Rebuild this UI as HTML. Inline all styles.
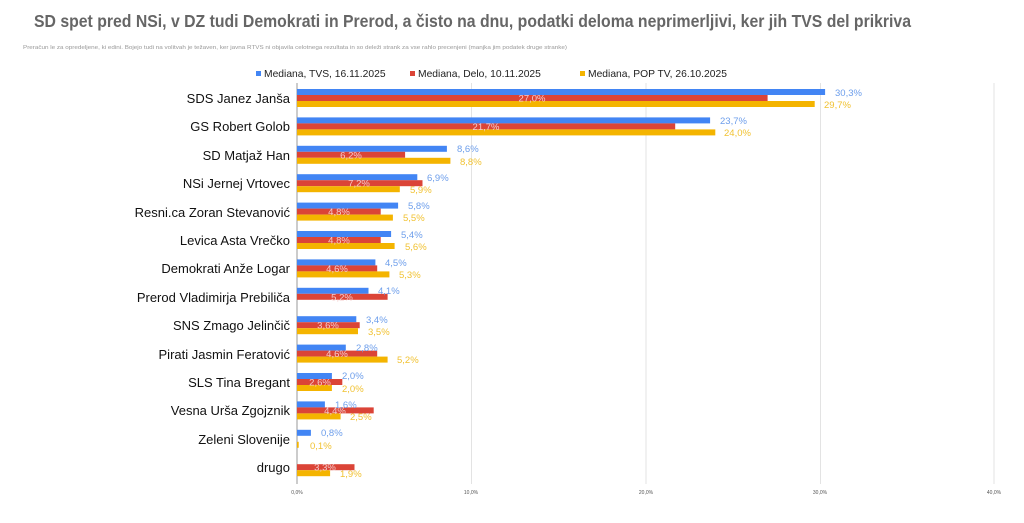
<!DOCTYPE html>
<html><head><meta charset="utf-8"><style>
body{margin:0;background:#fff;}
svg{display:block;font-family:"Liberation Sans",Arial,sans-serif;}
.c{font-size:13px;fill:#111;text-anchor:end;}
.b{font-size:9.5px;fill:#6d9eeb;}
.y{font-size:9.5px;fill:#f1c232;}
.r{font-size:9.5px;fill:#f4cccc;text-anchor:middle;}
.t{font-size:5px;fill:#555;text-anchor:middle;}
</style></head><body>
<svg width="1024" height="523" viewBox="0 0 1024 523">
<text x="34" y="27" font-size="17.5" font-weight="bold" fill="#666" textLength="877" lengthAdjust="spacingAndGlyphs">SD spet pred NSi, v DZ tudi Demokrati in Prerod, a čisto na dnu, podatki deloma neprimerljivi, ker jih TVS del prikriva</text>
<text x="23" y="49" font-size="5.2" fill="#999" textLength="544" lengthAdjust="spacingAndGlyphs">Preračun le za opredeljene, ki edini. Bojejo tudi na volitvah je težaven, ker javna RTVS ni objavila celotnega rezultata in so deleži strank za vse rahlo precenjeni (manjka jim podatek druge stranke)</text>
<g font-size="10.3" fill="#222">
<rect x="256" y="71" width="5" height="5" fill="#4285f4"/><text x="264" y="77">Mediana,  TVS, 16.11.2025</text>
<rect x="410" y="71" width="5" height="5" fill="#db4437"/><text x="418" y="77">Mediana, Delo, 10.11.2025</text>
<rect x="580" y="71" width="5" height="5" fill="#f4b400"/><text x="588" y="77">Mediana, POP TV, 26.10.2025</text>
</g>
<g stroke="#e3e3e3" stroke-width="1">
<line x1="471.5" y1="83" x2="471.5" y2="484"/><line x1="646" y1="83" x2="646" y2="484"/><line x1="820.5" y1="83" x2="820.5" y2="484"/><line x1="994" y1="83" x2="994" y2="484"/>
</g>
<line x1="297" y1="83" x2="297" y2="484" stroke="#aaa" stroke-width="1.2"/>
<g class="t"><text x="297" y="494">0,0%</text><text x="471" y="494">10,0%</text><text x="646" y="494">20,0%</text><text x="820" y="494">30,0%</text><text x="994" y="494">40,0%</text></g>
<g class="c">
<text x="290" y="103">SDS Janez Janša</text>
<text x="290" y="131">GS Robert Golob</text>
<text x="290" y="160">SD Matjaž Han</text>
<text x="290" y="188">NSi Jernej Vrtovec</text>
<text x="290" y="217">Resni.ca Zoran Stevanović</text>
<text x="290" y="245">Levica Asta Vrečko</text>
<text x="290" y="273">Demokrati Anže Logar</text>
<text x="290" y="302">Prerod Vladimirja Prebiliča</text>
<text x="290" y="330">SNS Zmago Jelinčič</text>
<text x="290" y="359">Pirati Jasmin Feratović</text>
<text x="290" y="387">SLS Tina Bregant</text>
<text x="290" y="415">Vesna Urša Zgojznik</text>
<text x="290" y="444">Zeleni Slovenije</text>
<text x="290" y="472">drugo</text>
</g>
<g fill="#4285f4">
<rect x="297" y="89" width="528.1" height="6"/>
<rect x="297" y="117.4" width="413.1" height="6"/>
<rect x="297" y="145.8" width="149.9" height="6"/>
<rect x="297" y="174.2" width="120.3" height="6"/>
<rect x="297" y="202.6" width="101.1" height="6"/>
<rect x="297" y="231" width="94.1" height="6"/>
<rect x="297" y="259.4" width="78.4" height="6"/>
<rect x="297" y="287.8" width="71.5" height="6"/>
<rect x="297" y="316.2" width="59.3" height="6"/>
<rect x="297" y="344.6" width="48.8" height="6"/>
<rect x="297" y="373" width="34.9" height="6"/>
<rect x="297" y="401.4" width="27.9" height="6"/>
<rect x="297" y="429.8" width="13.9" height="6"/>
</g>
<g fill="#db4437">
<rect x="297" y="95" width="470.6" height="6"/>
<rect x="297" y="123.4" width="378.2" height="6"/>
<rect x="297" y="151.8" width="108.1" height="6"/>
<rect x="297" y="180.2" width="125.5" height="6"/>
<rect x="297" y="208.6" width="83.7" height="6"/>
<rect x="297" y="237" width="83.7" height="6"/>
<rect x="297" y="265.4" width="80.2" height="6"/>
<rect x="297" y="293.8" width="90.6" height="6"/>
<rect x="297" y="322.2" width="62.7" height="6"/>
<rect x="297" y="350.6" width="80.2" height="6"/>
<rect x="297" y="379" width="45.3" height="6"/>
<rect x="297" y="407.4" width="76.7" height="6"/>
<rect x="297" y="464.2" width="57.5" height="6"/>
</g>
<g fill="#f4b400">
<rect x="297" y="101" width="517.7" height="6"/>
<rect x="297" y="129.4" width="418.3" height="6"/>
<rect x="297" y="157.8" width="153.4" height="6"/>
<rect x="297" y="186.2" width="102.8" height="6"/>
<rect x="297" y="214.6" width="95.9" height="6"/>
<rect x="297" y="243" width="97.6" height="6"/>
<rect x="297" y="271.4" width="92.4" height="6"/>
<rect x="297" y="328.2" width="61" height="6"/>
<rect x="297" y="356.6" width="90.6" height="6"/>
<rect x="297" y="385" width="34.9" height="6"/>
<rect x="297" y="413.4" width="43.6" height="6"/>
<rect x="297" y="441.8" width="1.7" height="6"/>
<rect x="297" y="470.2" width="33.1" height="6"/>
</g>
<g class="b">
<text x="835" y="96">30,3%</text>
<text x="720" y="124">23,7%</text>
<text x="457" y="152">8,6%</text>
<text x="427" y="181">6,9%</text>
<text x="408" y="209">5,8%</text>
<text x="401" y="238">5,4%</text>
<text x="385" y="266">4,5%</text>
<text x="378" y="294">4,1%</text>
<text x="366" y="323">3,4%</text>
<text x="356" y="351">2,8%</text>
<text x="342" y="379">2,0%</text>
<text x="335" y="408">1,6%</text>
<text x="321" y="436">0,8%</text>
</g>
<g class="y">
<text x="824" y="108">29,7%</text>
<text x="724" y="136">24,0%</text>
<text x="460" y="165">8,8%</text>
<text x="410" y="193">5,9%</text>
<text x="403" y="221">5,5%</text>
<text x="405" y="250">5,6%</text>
<text x="399" y="278">5,3%</text>
<text x="368" y="335">3,5%</text>
<text x="397" y="363">5,2%</text>
<text x="342" y="392">2,0%</text>
<text x="350" y="420">2,5%</text>
<text x="310" y="449">0,1%</text>
<text x="340" y="477">1,9%</text>
</g>
<g class="r">
<text x="532" y="101.5">27,0%</text>
<text x="486" y="129.9">21,7%</text>
<text x="351" y="158.3">6,2%</text>
<text x="359" y="186.7">7,2%</text>
<text x="339" y="215.1">4,8%</text>
<text x="339" y="243.5">4,8%</text>
<text x="337" y="271.9">4,6%</text>
<text x="342" y="300.3">5,2%</text>
<text x="328" y="328.7">3,6%</text>
<text x="337" y="357.1">4,6%</text>
<text x="320" y="385.5">2,6%</text>
<text x="335" y="413.9">4,4%</text>
<text x="325" y="470.7">3,3%</text>
</g>
</svg>
</body></html>
